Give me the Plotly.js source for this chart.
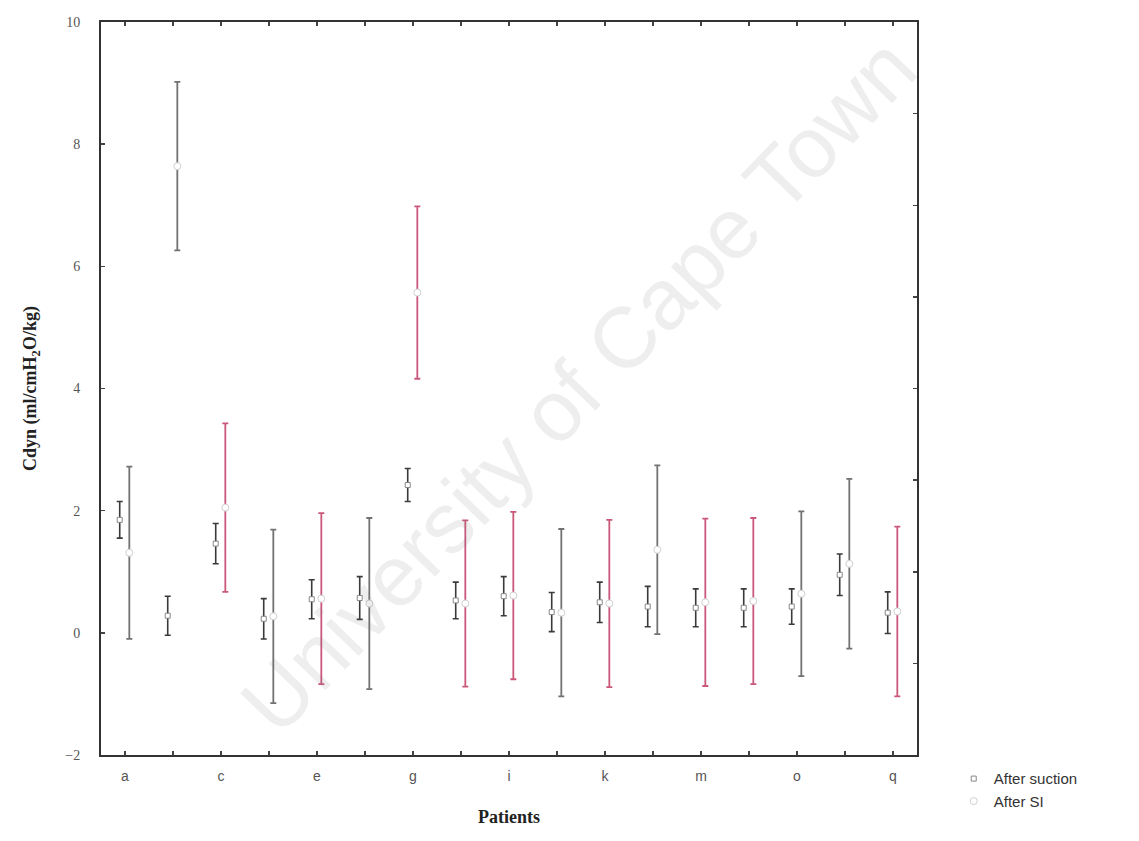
<!DOCTYPE html>
<html>
<head>
<meta charset="utf-8">
<script src="https://cdn.plot.ly/plotly-3.0.1.min.js"></script>
<style>html,body{margin:0;padding:0;background:#fff;}#chart{width:1139px;height:841px;}</style>
</head>
<body>
<div id="chart"></div>
<script>
// Data
const patients = ['a','b','c','d','e','f','g','h','i','j','k','l','m','n','o','p','q'];
const suctionMean = [1.85,0.28,1.46,0.23,0.55,0.57,2.42,0.53,0.60,0.34,0.50,0.43,0.41,0.41,0.43,0.95,0.33];
const suctionSD   = [0.30,0.32,0.33,0.33,0.32,0.35,0.27,0.30,0.32,0.32,0.33,0.33,0.31,0.31,0.29,0.34,0.34];
const siMean = [1.31,7.64,2.05,0.27,0.56,0.48,5.57,0.48,0.61,0.33,0.48,1.36,0.50,0.52,0.64,1.13,0.35];
const siSD   = [1.41,1.38,1.38,1.42,1.40,1.40,1.41,1.36,1.37,1.37,1.37,1.38,1.37,1.36,1.35,1.39,1.39];
// Scan tone of each "After SI" bar (r = reddish, g = grey)
const siTone = ['g','g','r','g','r','g','r','r','r','g','r','g','r','r','g','g','r'];
const tickLabels = ['a','','c','','e','','g','','i','','k','','m','','o','','q'];

const idx = patients.map((_, i) => i);
const OFF_S = -0.11, OFF_SI = 0.09;

function pick(arr, tone) { return arr.filter((_, i) => siTone[i] === tone); }

const traces = [];
traces.push({
  type: 'scatter', mode: 'markers', name: 'After suction',
  x: idx.map(i => i + OFF_S), y: suctionMean, text: patients,
  error_y: {type: 'data', array: suctionSD, visible: true, color: '#3a3a3a', thickness: 1.6, width: 3},
  marker: {symbol: 'square', size: 5, color: '#ffffff', line: {color: '#888', width: 1}},
  legendrank: 1
});
['g','r'].forEach((tone) => {
  traces.push({
    type: 'scatter', mode: 'markers', name: 'After SI',
    showlegend: tone === 'g', legendgroup: 'si', legendrank: 2,
    x: pick(idx, tone).map(i => i + OFF_SI), y: pick(siMean, tone),
    error_y: {type: 'data', array: pick(siSD, tone), visible: true,
              color: tone === 'r' ? '#c9587a' : '#727272', thickness: 1.8, width: 3},
    marker: {symbol: 'circle', size: 7, color: '#ffffff', line: {color: '#d0d0d0', width: 1}}
  });
});
traces.push({type: 'scatter', mode: 'markers', x: [0], y: [null], yaxis: 'y2', showlegend: false, hoverinfo: 'skip'});

const layout = {
  width: 1139, height: 841,
  margin: {l: 101, r: 222, t: 22, b: 86},
  paper_bgcolor: '#ffffff', plot_bgcolor: '#ffffff',
  showlegend: true,
  xaxis: {
    range: [-0.5, 16.5], tickmode: 'array', tickvals: idx, ticktext: tickLabels,
    showgrid: false, zeroline: false, showline: true, linecolor: '#333', linewidth: 2,
    mirror: 'ticks', ticks: 'inside', ticklen: 4, tickcolor: '#444', tickwidth: 1.5,
    tickfont: {family: 'Liberation Sans, Arial, sans-serif', size: 14, color: '#555555'},
    ticklabelstandoff: 7,
    title: {text: '<b>Patients</b>', font: {family: 'Liberation Serif, Times New Roman, serif', size: 18, color: '#222'}, standoff: 28}
  },
  yaxis: {
    range: [-2, 10], tickvals: [-2,0,2,4,6,8,10],
    showgrid: false, zeroline: false, showline: true, linecolor: '#333', linewidth: 2,
    mirror: true, ticks: 'inside', ticklen: 4, tickcolor: '#444', tickwidth: 1.5,
    tickfont: {family: 'Liberation Serif, Times New Roman, serif', size: 14, color: '#555555'},
    ticklabelstandoff: 16,
    title: {text: '<b>Cdyn (ml/cmH<sub>2</sub>O/kg)</b>', font: {family: 'Liberation Serif, Times New Roman, serif', size: 18, color: '#222'}, standoff: 24}
  },
  yaxis2: {
    overlaying: 'y', side: 'right', range: [0, 8], dtick: 1, tick0: 0,
    showgrid: false, zeroline: false, showline: false, showticklabels: false,
    ticks: 'inside', ticklen: 4, tickcolor: '#444', tickwidth: 1.5
  },
  legend: {
    x: 1.045, y: -0.01, xanchor: 'left', yanchor: 'top',
    font: {family: 'Liberation Sans, Arial, sans-serif', size: 15, color: '#333'},
    tracegroupgap: 0, itemwidth: 30, bgcolor: 'rgba(0,0,0,0)'
  },
  annotations: [{
    text: 'University of Cape Town', xref: 'paper', yref: 'paper',
    x: 0.585, y: 0.505, showarrow: false, textangle: -46,
    font: {family: 'Liberation Sans, Arial, sans-serif', size: 86, color: 'rgba(120,120,120,0.13)'}
  }]
};

Plotly.newPlot('chart', traces, layout, {displayModeBar: false, staticPlot: true});
</script>
</body>
</html>
